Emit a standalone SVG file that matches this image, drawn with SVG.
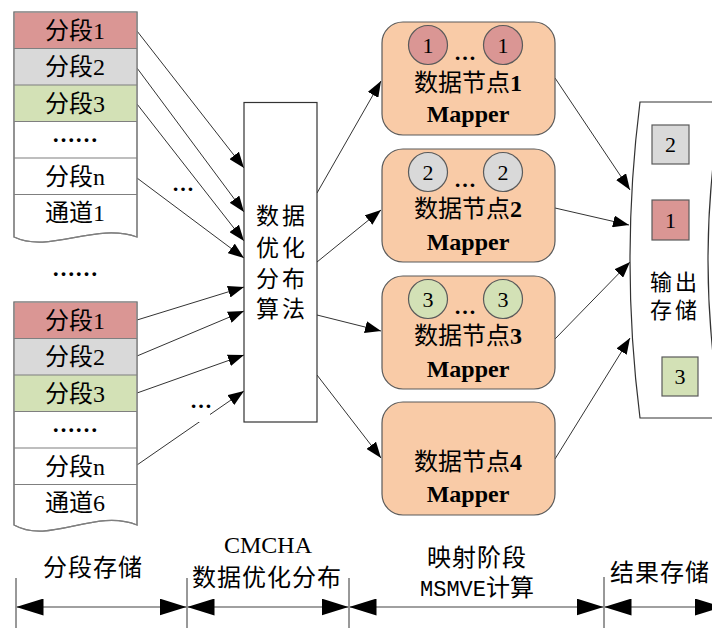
<svg xmlns="http://www.w3.org/2000/svg" width="712" height="628" viewBox="0 0 712 628">
  <defs>
    <marker id="ah" viewBox="0 0 16 12" refX="16" refY="6" markerWidth="16" markerHeight="12" markerUnits="userSpaceOnUse" orient="auto">
      <path d="M0,0 L16,6 L0,12 Z" fill="#000"/>
    </marker>
    <marker id="dim" viewBox="0 0 27 17" refX="27" refY="8.5" markerWidth="27" markerHeight="17" markerUnits="userSpaceOnUse" orient="auto-start-reverse">
      <path d="M0,0 L27,8.5 L0,17 Z" fill="#000"/>
    </marker>
  </defs>
  <style>
    .t { font-family: "Liberation Serif", "Noto Sans CJK SC", serif; fill: #000; }
    .c { text-anchor: middle; }
    .row { font-size: 24px; }
    .dots { font-size: 23px; font-weight: bold; }
    .stack { fill: #fff; stroke: #7f7f7f; stroke-width: 1.2; }
    .sep { stroke: #7f7f7f; stroke-width: 1.2; }
    .red { fill: #da9694; }
    .gray { fill: #d9d9d9; }
    .green { fill: #d3e1b6; }
    .node { fill: #f9cba7; stroke: #5a5a5a; stroke-width: 1.2; }
    .chip { stroke: #5a5a5a; stroke-width: 1.2; }
    .lbl { font-size: 24px; }
    .bold { font-weight: bold; }
    .conn line { stroke: #333; stroke-width: 1; marker-end: url(#ah); }
    .dimline { stroke: #808080; stroke-width: 1.5; marker-start: url(#dim); marker-end: url(#dim); }
    .tick { stroke: #333; stroke-width: 1; }
  </style>

  <rect width="712" height="628" fill="#fff"/>

  <!-- connectors -->
  <g id="connectors" class="conn">
    <!-- channel 1 segments into the distribution box -->
    <line x1="137" y1="31" x2="244" y2="168"/>
    <line x1="137" y1="68" x2="244" y2="212"/>
    <line x1="137" y1="104" x2="244" y2="241"/>
    <line x1="137" y1="178" x2="244" y2="258"/>
    <!-- channel 6 segments into the distribution box -->
    <line x1="137" y1="320" x2="244" y2="287"/>
    <line x1="137" y1="356" x2="244" y2="311"/>
    <line x1="137" y1="393" x2="244" y2="355"/>
    <line x1="137" y1="465" x2="244" y2="391"/>
    <!-- distribution box to data nodes -->
    <line x1="317" y1="193" x2="381" y2="81"/>
    <line x1="317" y1="262" x2="381" y2="210"/>
    <line x1="317" y1="315" x2="381" y2="331"/>
    <line x1="317" y1="375" x2="381" y2="458"/>
    <!-- data nodes to output storage -->
    <line x1="555" y1="78" x2="630" y2="190"/>
    <line x1="555" y1="208" x2="629" y2="225"/>
    <line x1="555" y1="339" x2="630" y2="262"/>
    <line x1="555" y1="459" x2="630" y2="338"/>
  </g>

  <!-- ellipsis marks between arrows -->
  <text class="t bold" x="183" y="191" font-size="22" text-anchor="middle">…</text>
  <rect x="193" y="394" width="17" height="28" fill="#fff"/>
  <text class="t bold" x="201" y="408" font-size="22" text-anchor="middle">…</text>

  <!-- channel 1 storage -->
  <g id="channel1">
    <path class="stack" d="M14,12 H137 V237 C95,222 50,254 14,237 Z"/>
    <rect class="red" x="14.6" y="12.6" width="121.8" height="35.9"/>
    <rect class="gray" x="14.6" y="48.5" width="121.8" height="36.5"/>
    <rect class="green" x="14.6" y="85" width="121.8" height="36.5"/>
    <path class="sep" d="M14,48.5 H137 M14,85 H137 M14,121.5 H137 M14,158 H137 M14,194.5 H137"/>
    <path d="M14,12 H137 V237 C95,222 50,254 14,237 Z" fill="none" stroke="#7f7f7f" stroke-width="1.2"/>
    <text class="t c row" x="75" y="39">分段1</text>
    <text class="t c row" x="75" y="75">分段2</text>
    <text class="t c row" x="75" y="112">分段3</text>
    <text class="t c dots" x="75" y="142">……</text>
    <text class="t c row" x="75" y="185">分段n</text>
    <text class="t c row" x="75" y="221">通道1</text>
  </g>

  <text class="t c dots" x="75" y="276">……</text>

  <!-- channel 6 storage -->
  <g id="channel6">
    <path class="stack" d="M14,302 H137 V525 C95,508 50,545 14,525 Z"/>
    <rect class="red" x="14.6" y="302.6" width="121.8" height="35.9"/>
    <rect class="gray" x="14.6" y="338.5" width="121.8" height="36.5"/>
    <rect class="green" x="14.6" y="375" width="121.8" height="36.5"/>
    <path class="sep" d="M14,338.5 H137 M14,375 H137 M14,411.5 H137 M14,448 H137 M14,484.5 H137"/>
    <path d="M14,302 H137 V525 C95,508 50,545 14,525 Z" fill="none" stroke="#7f7f7f" stroke-width="1.2"/>
    <text class="t c row" x="75" y="329">分段1</text>
    <text class="t c row" x="75" y="365">分段2</text>
    <text class="t c row" x="75" y="402">分段3</text>
    <text class="t c dots" x="75" y="432">……</text>
    <text class="t c row" x="75" y="475">分段n</text>
    <text class="t c row" x="75" y="511">通道6</text>
  </g>

  <!-- data distribution algorithm -->
  <g id="cmcha">
    <rect x="244" y="102.5" width="73" height="319.5" fill="#fff" stroke="#333" stroke-width="1.2"/>
    <g class="t c" font-size="23" letter-spacing="3">
      <text x="282" y="224">数据</text>
      <text x="282" y="256">优化</text>
      <text x="282" y="287">分布</text>
      <text x="282" y="317">算法</text>
    </g>
  </g>

  <!-- data node 1 -->
  <g id="node1">
    <rect class="node" x="382" y="22" width="173" height="113" rx="21"/>
    <circle class="chip red" cx="428" cy="45" r="19.5"/>
    <circle class="chip red" cx="503" cy="45" r="19.5"/>
    <text class="t c" x="428" y="53" font-size="22">1</text>
    <text class="t c" x="503" y="53" font-size="22">1</text>
    <text class="t c bold" x="465" y="60" font-size="22">…</text>
    <text class="t c lbl" x="468" y="91">数据节点<tspan class="bold">1</tspan></text>
    <text class="t c bold" x="468" y="122" font-size="24">Mapper</text>
  </g>

  <!-- data node 2 -->
  <g id="node2">
    <rect class="node" x="382" y="149" width="173" height="113" rx="21"/>
    <circle class="chip gray" cx="428" cy="172" r="19.5"/>
    <circle class="chip gray" cx="503" cy="172" r="19.5"/>
    <text class="t c" x="428" y="180" font-size="22">2</text>
    <text class="t c" x="503" y="180" font-size="22">2</text>
    <text class="t c bold" x="465" y="187" font-size="22">…</text>
    <text class="t c lbl" x="468" y="217">数据节点<tspan class="bold">2</tspan></text>
    <text class="t c bold" x="468" y="250" font-size="24">Mapper</text>
  </g>

  <!-- data node 3 -->
  <g id="node3">
    <rect class="node" x="382" y="276" width="173" height="113" rx="21"/>
    <circle class="chip green" cx="428" cy="299" r="19.5"/>
    <circle class="chip green" cx="503" cy="299" r="19.5"/>
    <text class="t c" x="428" y="307" font-size="22">3</text>
    <text class="t c" x="503" y="307" font-size="22">3</text>
    <text class="t c bold" x="465" y="314" font-size="22">…</text>
    <text class="t c lbl" x="468" y="344">数据节点<tspan class="bold">3</tspan></text>
    <text class="t c bold" x="468" y="377" font-size="24">Mapper</text>
  </g>

  <!-- data node 4 -->
  <g id="node4">
    <rect class="node" x="382" y="402" width="173" height="113" rx="21"/>
    <text class="t c lbl" x="468" y="470">数据节点<tspan class="bold">4</tspan></text>
    <text class="t c bold" x="468" y="502" font-size="24">Mapper</text>
  </g>

  <!-- output storage -->
  <g id="output">
    <path d="M640,102 Q620,260 640,418 L722,418 Q694,260 722,102 Z" fill="#fff" stroke="#333" stroke-width="1.2"/>
    <rect class="chip gray" x="652" y="125" width="37" height="39"/>
    <text class="t c" x="670.5" y="152" font-size="22">2</text>
    <rect class="chip red" x="652" y="200" width="37" height="40"/>
    <text class="t c" x="670.5" y="228" font-size="22">1</text>
    <text class="t c" x="675" y="290" font-size="22" letter-spacing="3">输出</text>
    <text class="t c" x="675" y="318" font-size="22" letter-spacing="3">存储</text>
    <rect class="chip green" x="662" y="357" width="36" height="39"/>
    <text class="t c" x="680" y="384" font-size="22">3</text>
  </g>

  <!-- stage dimension bar -->
  <g id="stages">
    <line class="tick" x1="16" y1="578" x2="16" y2="628"/>
    <line class="tick" x1="187" y1="578" x2="187" y2="628"/>
    <line class="tick" x1="349" y1="578" x2="349" y2="628"/>
    <line class="tick" x1="604" y1="577" x2="604" y2="628"/>
    <line class="dimline" x1="16.5" y1="607" x2="186.5" y2="607"/>
    <line class="dimline" x1="187.5" y1="607" x2="348.5" y2="607"/>
    <line class="dimline" x1="349.5" y1="607" x2="603.5" y2="607"/>
    <line class="dimline" x1="604.5" y1="607" x2="722" y2="607"/>
    <text class="t c" x="93" y="576" font-size="24" letter-spacing="1">分段存储</text>
    <text class="t c" x="268" y="553" font-size="24">CMCHA</text>
    <text class="t c" x="267" y="586" font-size="24" letter-spacing="1">数据优化分布</text>
    <text class="t c" x="477" y="566" font-size="24" letter-spacing="1">映射阶段</text>
    <text class="t c" x="477" y="596" font-size="24"><tspan font-family="Liberation Mono, monospace" font-size="22">MSMVE</tspan>计算</text>
    <text class="t" x="610" y="581" font-size="24" letter-spacing="1">结果存储</text>
  </g>
</svg>
